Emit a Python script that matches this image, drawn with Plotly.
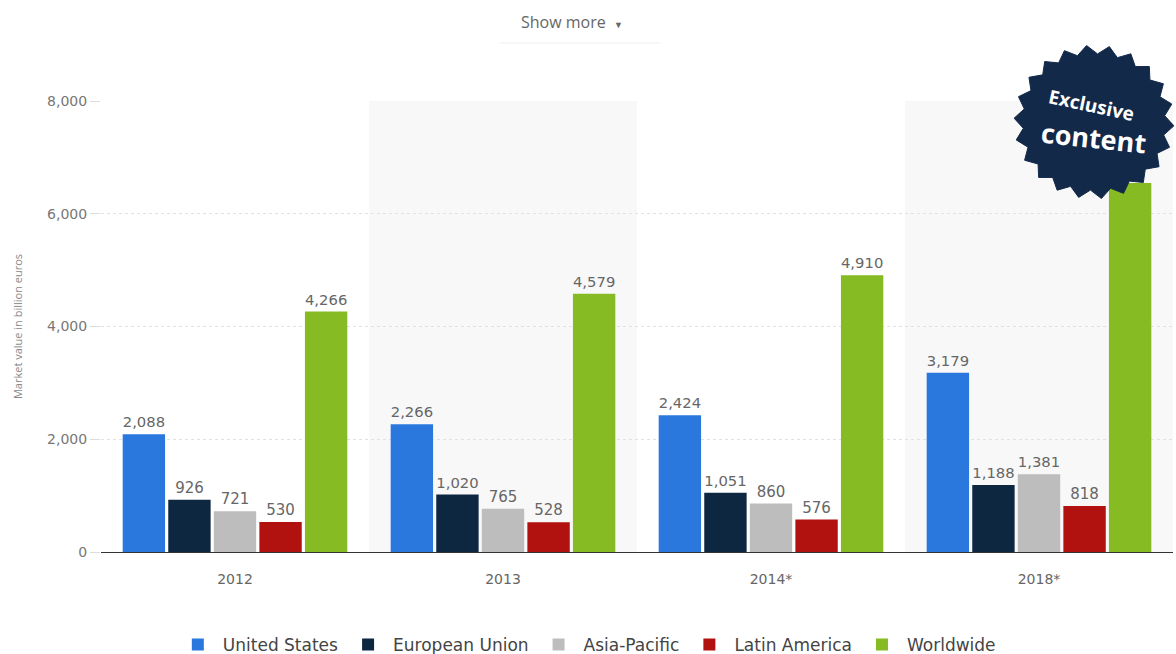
import math
import plotly.graph_objects as go

years = ["2012", "2013", "2014*", "2018*"]
series_names = ["United States", "European Union", "Asia-Pacific", "Latin America", "Worldwide"]
united_states = [2088, 2266, 2424, 3179]
european_union = [926, 1020, 1051, 1188]
asia_pacific = [721, 765, 860, 1381]
latin_america = [530, 528, 576, 818]
worldwide = [4266, 4579, 4910, 6545]
colors = ["#2a78de", "#0e2740", "#bdbdbd", "#b1110f", "#86bb23"]
y_ticks = [0, 2000, 4000, 6000, 8000]
y_tick_labels = ["0", "2,000", "4,000", "6,000", "8,000"]

values = [united_states, european_union, asia_pacific, latin_america, worldwide]

W, H = 1176, 654
ml, mr, mt, mb = 101, 3, 101, 102
LABEL = "#666666"
HIDDEN = "rgba(0,0,0,0)"  # label covered by the "Exclusive content" badge

fig = go.Figure()
for name, vals, col in zip(series_names, values, colors):
    label_colors = [LABEL] * len(vals)
    if name == "Worldwide":
        label_colors[-1] = HIDDEN
    fig.add_trace(go.Bar(
        x=years, y=vals, name=name, marker_color=col, marker_line_width=0,
        text=[f"{v:,}" for v in vals], textposition="outside", cliponaxis=False,
        textfont=dict(family="DejaVu Sans", size=15, color=label_colors),
    ))

shapes = []
for i in (1, 3):
    shapes.append(dict(type="rect", xref="x", yref="paper", x0=i - 0.5, x1=i + 0.5,
                       y0=0, y1=1, fillcolor="#f8f8f8", line_width=0, layer="below"))

def to_paper(px, py):
    return ((px - ml) / (W - ml - mr), 1 - (py - mt) / (H - mt - mb))

# Exclusive content badge (decoration)
cx, cy = 1094, 122
pts = []
n = 22
for k in range(2 * n):
    ang = math.pi * k / n + 0.05
    r = 80 if k % 2 == 0 else 71
    pts.append((cx + r * math.cos(ang), cy + r * math.sin(ang) * 0.96))
path = "M " + " L ".join("{:.5f},{:.5f}".format(*to_paper(px, py)) for px, py in pts) + " Z"
shapes.append(dict(type="path", xref="paper", yref="paper", path=path,
                   fillcolor="#13294a", line=dict(color="#13294a", width=1), layer="above"))

shapes.append(dict(type="line", xref="paper", yref="paper",
                   x0=to_paper(500, 0)[0], x1=to_paper(660, 0)[0],
                   y0=to_paper(0, 43)[1], y1=to_paper(0, 43)[1],
                   line=dict(color="#eeeeee", width=1)))

annotations = [
    dict(text="Show more  <span style='font-size:9px'>▼</span>", xref="paper", yref="paper",
         x=to_paper(572, 0)[0], y=to_paper(0, 22)[1], showarrow=False,
         font=dict(family="Open Sans", size=16, color="#666666"), xanchor="center", yanchor="middle"),
    dict(text="<b>Exclusive</b>", xref="paper", yref="paper",
         x=to_paper(1091, 0)[0], y=to_paper(0, 105)[1], showarrow=False, textangle=12,
         font=dict(family="Open Sans", size=19, color="white"), xanchor="center", yanchor="middle"),
    dict(text="<b>content</b>", xref="paper", yref="paper",
         x=to_paper(1093, 0)[0], y=to_paper(0, 137)[1], showarrow=False, textangle=6,
         font=dict(family="Open Sans", size=27, color="white"), xanchor="center", yanchor="middle"),
]

fig.update_layout(
    width=W, height=H,
    margin=dict(l=ml, r=mr, t=mt, b=mb, pad=0),
    paper_bgcolor="white", plot_bgcolor="white",
    barmode="group", bargap=0.15, bargroupgap=0.07,
    font=dict(family="DejaVu Sans", color="#666666"),
    shapes=shapes, annotations=annotations,
    legend=dict(orientation="h", xref="container", yref="container",
                x=0.499, xanchor="center", y=0.0138, yanchor="middle",
                font=dict(family="DejaVu Sans", size=17, color="#444444"),
                itemwidth=40, traceorder="normal", tracegroupgap=0),
    showlegend=True,
)
fig.update_xaxes(showgrid=False, showline=True, linecolor="#333333", linewidth=1,
                 tickfont=dict(family="DejaVu Sans", size=14, color="#666666"),
                 ticks="", ticklabelstandoff=14)
fig.update_yaxes(range=[0, 8000], tickvals=y_ticks, ticktext=y_tick_labels,
                 showgrid=True, gridcolor="#e2e2e2", griddash="dot", gridwidth=1,
                 zeroline=False, showline=False, ticks="outside", ticklen=10, tickcolor="#dddddd",
                 tickfont=dict(family="DejaVu Sans", size=14, color="#777777"),
                 title=dict(text="Market value in billion euros", standoff=22,
                            font=dict(family="Open Sans", size=11, color="#888888")))

fig.write_html("out.html")
